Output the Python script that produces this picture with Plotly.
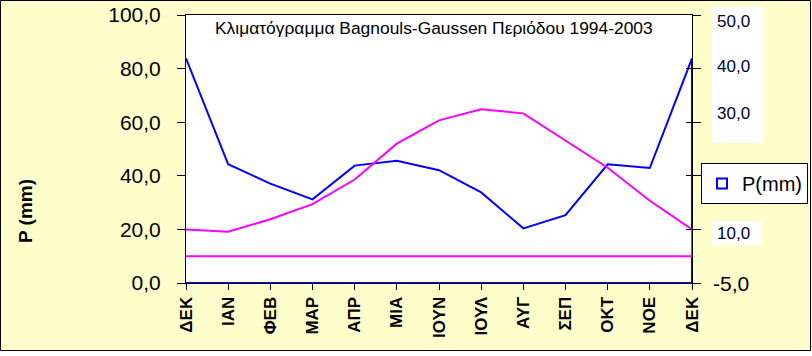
import plotly.graph_objects as go

months = ["ΔΕΚ", "ΙΑΝ", "ΦΕΒ", "ΜΑΡ", "ΑΠΡ", "ΜΙΑ", "ΙΟΥΝ", "ΙΟΥΛ", "ΑΥΓ", "ΣΕΠ", "ΟΚΤ", "ΝΟΕ", "ΔΕΚ"]
month_pos = list(range(len(months)))
precip = [83.8, 44.3, 37.1, 31.2, 43.8, 45.6, 42.1, 33.8, 20.4, 25.3, 44.3, 42.9, 83.8]
temp = [10.0, 9.55, 11.9, 14.7, 19.3, 26.0, 30.35, 32.4, 31.65, 26.65, 21.5, 15.35, 10.0]
p_base = 0.0
t_base = 5.0
left_ticks = [0, 20, 40, 60, 80, 100]
right_ticks = [0, 10, 20, 30, 40, 50]
right_labels_top = ["50,0", "40,0", "30,0"]
right_labels_top_vals = [48.7, 40.3, 31.6]
right_label_low = "10,0"
right_label_low_val = 9.3
right_label_bottom = "-5,0"

W, H = 812, 356
L, R, T, B = 186, 692, 15, 283
pw, ph = R - L, B - T

def px(x):
    return (x - L) / pw

def py(y):
    return (B - y) / ph

FONT = "Arial, Liberation Sans, sans-serif"

fig = go.Figure()

# precipitation (closed to baseline along right edge and bottom)
fig.add_trace(go.Scatter(
    x=month_pos + [month_pos[-1], month_pos[0]],
    y=precip + [p_base, p_base],
    mode="lines", line=dict(color="#0000FF", width=2),
    showlegend=False, hoverinfo="skip", yaxis="y"))

# temperature (closed to the 5-degree line)
fig.add_trace(go.Scatter(
    x=month_pos + [month_pos[-1], month_pos[0]],
    y=temp + [t_base, t_base],
    mode="lines", line=dict(color="#FF00FF", width=2),
    showlegend=False, hoverinfo="skip", yaxis="y2"))

# legend entry
fig.add_trace(go.Scatter(
    x=[None], y=[None], mode="markers", name="P(mm)",
    marker=dict(symbol="square-open", size=10, color="#0000FF",
                line=dict(width=2, color="#0000FF")),
    yaxis="y"))

shapes = [
    dict(type="rect", xref="paper", yref="paper",
         x0=px(0.5), x1=px(810.5), y0=py(350.5), y1=py(0.5),
         line=dict(color="black", width=1), fillcolor="rgba(0,0,0,0)", layer="above"),
    dict(type="rect", xref="paper", yref="paper",
         x0=px(-2), x1=px(814), y0=py(358), y1=py(351.2),
         line=dict(width=0), fillcolor="white", layer="above"),
    dict(type="rect", xref="paper", yref="paper",
         x0=px(712), x1=px(763), y0=py(143), y1=py(6),
         line=dict(width=0), fillcolor="white", layer="above"),
    dict(type="rect", xref="paper", yref="paper",
         x0=px(712), x1=px(762), y0=py(245), y1=py(221),
         line=dict(width=0), fillcolor="white", layer="above"),
]

annotations = [
    dict(text="Κλιματόγραμμα Bagnouls-Gaussen Περιόδου 1994-2003",
         xref="paper", yref="paper", x=px(434), y=py(28),
         xanchor="center", yanchor="middle", showarrow=False,
         font=dict(family=FONT, size=17.4, color="black")),
    dict(text="<b>P (mm)</b>", textangle=-90,
         xref="paper", yref="paper", x=px(25), y=py(211),
         xanchor="center", yanchor="middle", showarrow=False,
         font=dict(family=FONT, size=19, color="black")),
    dict(text=right_label_bottom, xref="paper", yref="y2", x=px(751), y=0,
         xanchor="right", yanchor="middle", showarrow=False,
         font=dict(family=FONT, size=21, color="black")),
    dict(text=right_label_low, xref="paper", yref="y2", x=px(752), y=right_label_low_val,
         xanchor="right", yanchor="middle", showarrow=False,
         font=dict(family=FONT, size=17, color="#000033")),
]
for lab, v in zip(right_labels_top, right_labels_top_vals):
    annotations.append(dict(text=lab, xref="paper", yref="y2", x=px(752), y=v,
                            xanchor="right", yanchor="middle", showarrow=False,
                            font=dict(family=FONT, size=17, color="#000033")))

fig.update_layout(
    width=W, height=H,
    margin=dict(l=L, r=W - R, t=T, b=H - B, pad=0, autoexpand=False),
    paper_bgcolor="#FFFFCC", plot_bgcolor="white",
    separators=",.",
    font=dict(family=FONT, color="black"),
    xaxis=dict(range=[month_pos[0], month_pos[-1]], tickvals=month_pos, ticktext=[f"<b>{m}</b>" for m in months],
               tickangle=-90, ticks="outside", ticklen=6, tickcolor="black",
               showline=True, linecolor="black", linewidth=1, mirror=True,
               showgrid=False, zeroline=False, automargin=False,
               tickfont=dict(family=FONT, size=17, color="black")),
    yaxis=dict(range=[0, 100], tickvals=left_ticks, tickformat=".1f",
               ticks="outside", ticklen=8, tickcolor="black",
               showline=True, linecolor="black", linewidth=1, mirror="ticks",
               showgrid=False, zeroline=False, ticklabelstandoff=12, automargin=False,
               tickfont=dict(family=FONT, size=21, color="black")),
    yaxis2=dict(range=[0, 50], tickvals=right_ticks, overlaying="y", side="right",
                ticks="inside", ticklen=6, tickcolor="black", automargin=False,
                showticklabels=False, showline=False, showgrid=False, zeroline=False),
    legend=dict(x=px(701), y=py(163), xanchor="left", yanchor="top",
                bgcolor="white", bordercolor="black", borderwidth=1,
                font=dict(family=FONT, size=20, color="black"),
                itemwidth=30, tracegroupgap=0),
    shapes=shapes,
    annotations=annotations,
    showlegend=True,
)

fig.write_html("out.html", config={"displayModeBar": False},
               post_script="document.body.style.margin='0';document.body.style.overflow='hidden';")
